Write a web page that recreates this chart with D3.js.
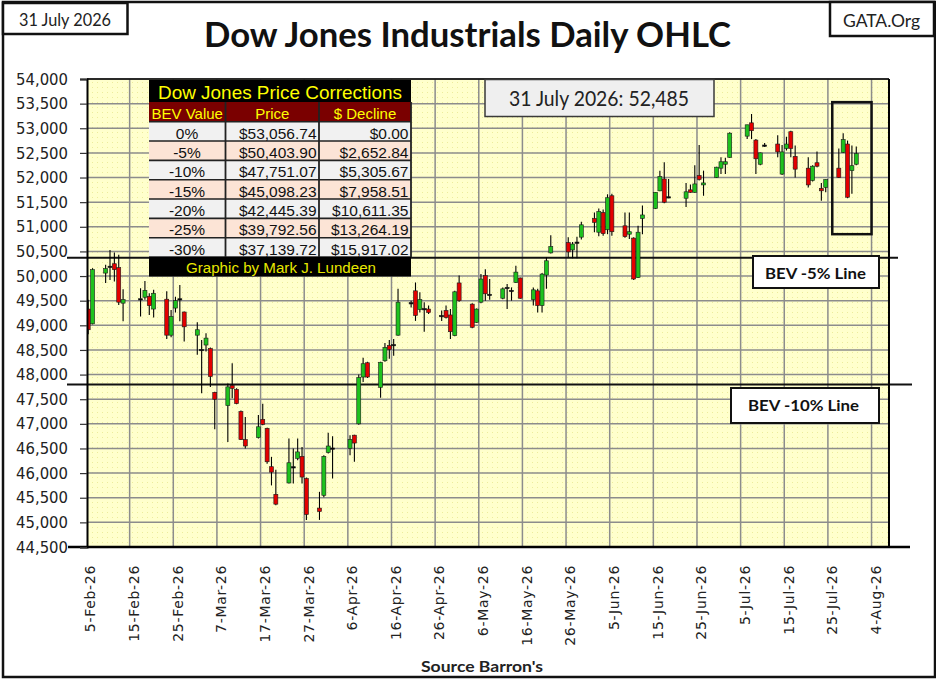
<!DOCTYPE html>
<html>
<head>
<meta charset="utf-8">
<script src="https://cdn.jsdelivr.net/npm/d3@7"></script>
<style>
  body { margin: 0; background: #fff; }
  svg { display: block; }
</style>
</head>
<body>
<div id="chart"></div>
<script>
// Dow Jones daily OHLC, one line per trading week
var tradeDates = [
  "02-05","02-06",
  "02-09","02-10","02-11","02-12","02-13",
  "02-17","02-18","02-19","02-20",
  "02-23","02-24","02-25","02-26","02-27",
  "03-02","03-03","03-04","03-05","03-06",
  "03-09","03-10","03-11","03-12","03-13",
  "03-16","03-17","03-18","03-19","03-20",
  "03-23","03-24","03-25","03-26","03-27",
  "03-30","03-31","04-01","04-02",
  "04-06","04-07","04-08","04-09","04-10",
  "04-13","04-14","04-15","04-16","04-17",
  "04-20","04-21","04-22","04-23","04-24",
  "04-27","04-28","04-29","04-30","05-01",
  "05-04","05-05","05-06","05-07","05-08",
  "05-11","05-12","05-13","05-14","05-15",
  "05-18","05-19","05-20","05-21","05-22",
  "05-26","05-27","05-28","05-29",
  "06-01","06-02","06-03","06-04","06-05",
  "06-08","06-09","06-10","06-11","06-12",
  "06-15","06-16","06-17","06-18",
  "06-22","06-23","06-24","06-25","06-26",
  "06-29","06-30","07-01","07-02",
  "07-06","07-07","07-08","07-09","07-10",
  "07-13","07-14","07-15","07-16","07-17",
  "07-20","07-21","07-22","07-23","07-24",
  "07-27","07-28","07-29","07-30","07-31"
];

var opens = [
  49330,49030,
  50060,50190,50250,50170,49450,
  49540,49570,49590,49330,
  49530,48800,49350,49520,49270,
  48800,48500,48600,48530,47640,
  47370,47780,47700,47250,46680,
  46720,47090,46910,46130,45570,
  45800,46130,46300,46340,45890,
  45290,45550,46420,46500,
  46500,46770,47000,47950,48240,
  47740,48280,48590,48600,48800,
  49450,49700,49320,49330,49330,
  49200,49300,49210,48790,49860,
  49430,49060,49470,50010,49620,
  49550,49760,49700,49870,49960,
  49520,49700,49400,50020,50470,
  50680,50530,50680,50790,
  51170,50890,51290,50940,51630,
  51020,50850,50770,49970,51170,
  51370,51730,51970,51600,
  51580,51750,51700,52040,51850,
  52000,52190,52270,52410,
  52840,53110,52760,52270,52660,
  52680,52070,52590,52930,52430,
  52190,51940,52300,51780,51800,
  52190,52510,52680,52140,52270
];

var highs = [
  49520,50160,
  50230,50530,50480,50430,49730,
  49750,49900,49650,49720,
  49690,49310,49580,49820,49280,
  49060,48700,48840,48550,47650,
  47820,48230,47720,47270,47140,
  47180,47410,46920,46330,46070,
  46700,46500,46700,46530,45910,
  45620,46360,46820,46750,
  46770,46780,48000,48340,48260,
  48260,48640,48700,48720,49740,
  49500,49870,49670,49470,49400,
  49300,49400,49330,49700,50010,
  49450,49340,50040,50140,49940,
  49770,49840,49770,50210,49970,
  49770,49740,50060,50380,50830,
  50790,50690,50800,51100,
  51290,51370,51350,51660,51670,
  51290,51290,50790,51020,51430,
  51700,52140,52310,51970,
  51890,51860,52250,52660,52140,
  52220,52410,52400,52920,
  53070,53290,52780,52510,52700,
  52860,52660,52830,52950,52650,
  52410,52250,52530,51890,51960,
  52590,52900,52750,52650,52630
];

var lows = [
  48820,49020,
  49860,49920,49890,49410,49080,
  49180,49520,49210,49160,
  48720,48760,49260,49080,48670,
  48400,47620,48470,47750,46890,
  46630,47520,47400,46670,46500,
  46700,46970,46190,45750,45350,
  45790,45790,46260,45790,45050,
  45050,45510,46400,45890,
  46360,46230,46980,47850,47930,
  47530,48260,48320,48380,48790,
  49360,49090,49260,48870,49230,
  49090,49140,48720,48780,49480,
  48940,49050,49450,49500,49520,
  49530,49330,49500,49860,49540,
  49400,49260,49260,49740,50460,
  50380,50360,50360,50740,
  50890,50810,50820,50850,50820,
  50780,50750,49920,49960,50850,
  51360,51720,51480,51580,
  51400,51690,51690,51940,51630,
  51990,52070,52070,52400,
  52780,52780,52070,52250,52620,
  52410,52050,52550,52410,52000,
  51800,51920,52210,51530,51700,
  51990,52500,51580,51670,52250
];

var closes = [
  48910,50130,
  50150,50200,50130,49470,49520,
  49530,49710,49400,49650,
  48800,49180,49500,49540,48970,
  48910,48510,48740,47960,47500,
  47750,47720,47410,46680,46550,
  46940,46990,46230,46020,45370,
  46210,46110,46430,45920,45160,
  45220,46340,46550,46510,
  46680,46610,47940,48220,47950,
  48250,48550,48510,48610,49470,
  49460,49200,49520,49340,49260,
  49190,49160,48870,49680,49500,
  48960,49330,49940,49640,49630,
  49740,49770,49710,50080,49550,
  49720,49400,50040,50310,50600,
  50490,50650,50690,51040,
  51090,51310,50860,51590,50900,
  50800,50900,49940,50890,51240,
  51700,52020,51500,51610,
  51710,51700,51870,51960,51890,
  52210,52320,52320,52900,
  53070,52950,52380,52500,52660,
  52520,52520,52680,52590,52170,
  51850,52230,52230,51730,51960,
  52000,52770,51600,52240,52485
];

var yTickValues = [44500,45000,45500,46000,46500,47000,47500,48000,48500,49000,
                   49500,50000,50500,51000,51500,52000,52500,53000,53500,54000];
var xTickDates = ["02-05","02-15","02-25","03-07","03-17","03-27","04-06","04-16","04-26",
                  "05-06","05-16","05-26","06-05","06-15","06-25","07-05","07-15","07-25","08-04"];

// BEV correction table
var bevLabels   = ["0%","-5%","-10%","-15%","-20%","-25%","-30%"];
var bevPrices   = ["$53,056.74","$50,403.90","$47,751.07","$45,098.23","$42,445.39","$39,792.56","$37,139.72"];
var bevDeclines = ["$0.00","$2,652.84","$5,305.67","$7,958.51","$10,611.35","$13,264.19","$15,917.02"];

// BEV lines drawn on the chart, and the last week box
var bevLineValues = [50370, 47800];
var bevLineNames  = ["BEV -5% Line", "BEV -10% Line"];
var boxDates  = ["07-26","08-04"];
var boxPrices = [50850, 53530];
var lastLabel = "31 July 2026: 52,485";

var W = 936, H = 680;
var plotL = 87, plotR = 889, plotT = 79, plotB = 547;
var parse = function(s){ return d3.timeParse("%Y-%m-%d")("2026-" + s); };

var x = d3.scaleTime()
    .domain([parse("02-05"), parse("08-08")])
    .range([86, 889]);
var y = d3.scaleLinear()
    .domain([44500, 54000])
    .range([plotB, plotT]);
var halfDay = (x(parse("02-06")) - x(parse("02-05"))) / 2;

var svg = d3.select("#chart").append("svg")
    .attr("width", W)
    .attr("height", H);

svg.append("rect").attr("width", W).attr("height", H).attr("fill", "#fff");

var defs = svg.append("defs");
var pat = defs.append("pattern").attr("id", "dots")
    .attr("width", 5).attr("height", 5).attr("patternUnits", "userSpaceOnUse");
pat.append("rect").attr("width", 5).attr("height", 5).attr("fill", "#ffffcc");
pat.append("rect").attr("x", 2).attr("y", 2).attr("width", 1).attr("height", 1).attr("fill", "#ecec9c");
defs.append("clipPath").attr("id", "plotclip").append("rect")
    .attr("x", plotL).attr("y", plotT).attr("width", plotR - plotL).attr("height", plotB - plotT);

// plot background
svg.append("rect")
    .attr("x", plotL).attr("y", plotT)
    .attr("width", plotR - plotL).attr("height", plotB - plotT)
    .attr("fill", "url(#dots)");

// gridlines
svg.append("g").selectAll("line")
    .data(yTickValues)
  .enter().append("line")
    .attr("x1", plotL).attr("x2", plotR)
    .attr("y1", function(d){ return y(d); })
    .attr("y2", function(d){ return y(d); })
    .attr("stroke", "#8c8c8c").attr("stroke-width", 1.5);

svg.append("g").selectAll("line")
    .data(xTickDates.slice(1))
  .enter().append("line")
    .attr("x1", function(d){ return x(parse(d)); })
    .attr("x2", function(d){ return x(parse(d)); })
    .attr("y1", plotT).attr("y2", plotB)
    .attr("stroke", "#8c8c8c").attr("stroke-width", 1.5);

// BEV lines
var lineEnds = [898, 912];
svg.append("g").selectAll("line")
    .data(bevLineValues)
  .enter().append("line")
    .attr("x1", 67)
    .attr("x2", function(d, i){ return lineEnds[i]; })
    .attr("y1", function(d){ return y(d); })
    .attr("y2", function(d){ return y(d); })
    .attr("stroke", "#111").attr("stroke-width", 2);

// candles
var candles = tradeDates.map(function(d, i){
  return {date: parse(d), o: opens[i], h: highs[i], l: lows[i], c: closes[i]};
});

var cg = svg.append("g").attr("clip-path", "url(#plotclip)");
cg.selectAll("line.wick")
    .data(candles)
  .enter().append("line")
    .attr("class", "wick")
    .attr("x1", function(d){ return x(d.date) + halfDay; })
    .attr("x2", function(d){ return x(d.date) + halfDay; })
    .attr("y1", function(d){ return y(d.h); })
    .attr("y2", function(d){ return y(d.l); })
    .attr("stroke", "#000").attr("stroke-width", 1.1);

cg.selectAll("rect.body")
    .data(candles)
  .enter().append("rect")
    .attr("class", "body")
    .attr("x", function(d){ return x(d.date) + halfDay - 2; })
    .attr("width", 4)
    .attr("y", function(d){ return y(Math.max(d.o, d.c)); })
    .attr("height", function(d){ return Math.max(1.3, Math.abs(y(d.o) - y(d.c))); })
    .attr("fill", function(d){
      if (Math.abs(d.c - d.o) < 25) return "#000";
      return d.c > d.o ? "#1ec21e" : "#e40000";
    })
    .attr("stroke", "#1a1a1a").attr("stroke-width", 0.6);

// plot frame
svg.append("line").attr("x1", plotL).attr("x2", plotR).attr("y1", plotT).attr("y2", plotT)
    .attr("stroke", "#000").attr("stroke-width", 1.5);
svg.append("line").attr("x1", plotR).attr("x2", plotR).attr("y1", plotT).attr("y2", plotB)
    .attr("stroke", "#000").attr("stroke-width", 2);
svg.append("line").attr("x1", 68).attr("x2", 910).attr("y1", plotB).attr("y2", plotB)
    .attr("stroke", "#000").attr("stroke-width", 2.5);

// y axis
var yAxis = svg.append("g")
    .attr("transform", "translate(" + plotL + ",0)")
    .call(d3.axisLeft(y).tickValues(yTickValues).tickSize(7).tickPadding(12)
      .tickFormat(d3.format(",")));
yAxis.attr("font-family", "'DejaVu Sans', Verdana, sans-serif").attr("font-size", 16);
yAxis.select(".domain").attr("stroke", "#000").attr("stroke-width", 2);
yAxis.selectAll(".tick line").attr("stroke", "#333").attr("stroke-width", 1.2);
yAxis.selectAll(".tick text")
    .attr("fill", "#222")
    .attr("textLength", 52)
    .attr("lengthAdjust", "spacingAndGlyphs");

// x labels, rotated
var fmt = d3.timeFormat("%-d-%b-%y");
svg.append("g")
    .attr("font-family", "'DejaVu Sans', Verdana, sans-serif")
    .attr("font-size", 14)
  .selectAll("text")
    .data(xTickDates)
  .enter().append("text")
    .attr("transform", function(d){ return "translate(" + (x(parse(d)) + 4.4) + ",565) rotate(-90)"; })
    .attr("text-anchor", "end")
    .attr("dy", "0.35em")
    .attr("fill", "#222")
    .style("letter-spacing", "0.7px")
    .text(function(d){ return fmt(parse(d)); });

// last week box
svg.append("rect")
    .attr("x", x(parse(boxDates[0])))
    .attr("y", y(boxPrices[1]))
    .attr("width", x(parse(boxDates[1])) - x(parse(boxDates[0])))
    .attr("height", y(boxPrices[0]) - y(boxPrices[1]))
    .attr("fill", "none").attr("stroke", "#111").attr("stroke-width", 2.5);

// BEV line labels
var bevBoxes = [{x: 753, y: 256, w: 126, h: 32, tx: 815.5, ty: 279, tl: 101},
                {x: 731, y: 388, w: 148, h: 35, tx: 803.5, ty: 411, tl: 111}];
bevBoxes.forEach(function(b, i){
  svg.append("rect").attr("x", b.x).attr("y", b.y).attr("width", b.w).attr("height", b.h)
      .attr("fill", "#fff").attr("stroke", "#111").attr("stroke-width", 2);
  svg.append("text").attr("x", b.tx).attr("y", b.ty)
      .attr("text-anchor", "middle")
      .attr("textLength", b.tl).attr("lengthAdjust", "spacingAndGlyphs")
      .style("font-family", "Lato, sans-serif").style("font-weight", "bold").style("font-size", "15.5px")
      .attr("fill", "#111")
      .text(bevLineNames[i]);
});

// correction table
var colX = [149, 225.5, 319, 411];
var rowH = 19.33, rowTop = 121.7;
var tbl = svg.append("g").style("font-family", "'Liberation Sans', Arial, sans-serif");

tbl.append("rect").attr("x", colX[0]).attr("y", 80).attr("width", colX[3] - colX[0]).attr("height", 22)
    .attr("fill", "#000");
tbl.append("text").attr("x", 280).attr("y", 98.5).attr("text-anchor", "middle")
    .attr("textLength", 244).attr("lengthAdjust", "spacingAndGlyphs")
    .attr("fill", "#ffff00").style("font-size", "18.5px")
    .text("Dow Jones Price Corrections");

tbl.append("rect").attr("x", colX[0]).attr("y", 102).attr("width", colX[3] - colX[0]).attr("height", rowTop - 102)
    .attr("fill", "#7a0000");
var heads = ["BEV Value", "Price", "$ Decline"];
tbl.selectAll("text.head")
    .data(heads)
  .enter().append("text")
    .attr("class", "head")
    .attr("x", function(d, i){ return (colX[i] + colX[i + 1]) / 2; })
    .attr("y", 119)
    .attr("text-anchor", "middle")
    .attr("fill", "#ffff00").style("font-size", "15px")
    .text(function(d){ return d; });

tbl.selectAll("rect.row")
    .data(bevLabels)
  .enter().append("rect")
    .attr("class", "row")
    .attr("x", colX[0]).attr("width", colX[3] - colX[0])
    .attr("y", function(d, i){ return rowTop + i * rowH; })
    .attr("height", rowH)
    .attr("fill", function(d, i){ return i % 2 ? "#fce4d6" : "#f1f1f1"; });

tbl.selectAll("line.rowline")
    .data(d3.range(bevLabels.length + 1))
  .enter().append("line")
    .attr("class", "rowline")
    .attr("x1", colX[0]).attr("x2", colX[3])
    .attr("y1", function(i){ return rowTop + i * rowH; })
    .attr("y2", function(i){ return rowTop + i * rowH; })
    .attr("stroke", "#222").attr("stroke-width", 1.6);

tbl.selectAll("line.colline")
    .data([colX[1], colX[2], colX[3]])
  .enter().append("line")
    .attr("class", "colline")
    .attr("x1", function(d){ return d; }).attr("x2", function(d){ return d; })
    .attr("y1", 102).attr("y2", rowTop + bevLabels.length * rowH)
    .attr("stroke", "#222").attr("stroke-width", 1.8);

tbl.selectAll("text.bev")
    .data(bevLabels)
  .enter().append("text")
    .attr("class", "bev")
    .attr("x", 187).attr("y", function(d, i){ return rowTop + i * rowH + 17; })
    .attr("text-anchor", "middle").attr("fill", "#111").style("font-size", "15.5px")
    .text(function(d){ return d; });
tbl.selectAll("text.price")
    .data(bevPrices)
  .enter().append("text")
    .attr("class", "price")
    .attr("x", 316.5).attr("y", function(d, i){ return rowTop + i * rowH + 17; })
    .attr("text-anchor", "end").attr("fill", "#111").style("font-size", "15.5px")
    .text(function(d){ return d; });
tbl.selectAll("text.decl")
    .data(bevDeclines)
  .enter().append("text")
    .attr("class", "decl")
    .attr("x", 408.5).attr("y", function(d, i){ return rowTop + i * rowH + 17; })
    .attr("text-anchor", "end").attr("fill", "#111").style("font-size", "15.5px")
    .text(function(d){ return d; });

var footTop = rowTop + bevLabels.length * rowH;
tbl.append("rect").attr("x", colX[0]).attr("y", footTop).attr("width", colX[3] - colX[0]).attr("height", 19.5)
    .attr("fill", "#000");
tbl.append("text").attr("x", 281).attr("y", footTop + 16).attr("text-anchor", "middle")
    .attr("textLength", 190).attr("lengthAdjust", "spacingAndGlyphs")
    .attr("fill", "#e8e800").style("font-size", "15.5px")
    .text("Graphic by Mark J. Lundeen");

// latest close box
svg.append("rect").attr("x", 485).attr("y", 79.5).attr("width", 229).attr("height", 37)
    .attr("fill", "#efefef").attr("stroke", "#3a3a3a").attr("stroke-width", 1.5);
svg.append("text").attr("x", 509).attr("y", 106)
    .attr("textLength", 180).attr("lengthAdjust", "spacingAndGlyphs")
    .style("font-family", "Lato, sans-serif").style("font-size", "21px")
    .attr("fill", "#222")
    .text(lastLabel);

// title and corner boxes
svg.append("text").attr("x", 204).attr("y", 47)
    .attr("textLength", 527).attr("lengthAdjust", "spacingAndGlyphs")
    .style("font-family", "Lato, sans-serif").style("font-weight", "bold").style("font-size", "34px")
    .attr("fill", "#111")
    .text("Dow Jones Industrials Daily OHLC");

svg.append("rect").attr("x", 3).attr("y", 2).attr("width", 932).attr("height", 675)
    .attr("fill", "none").attr("stroke", "#111").attr("stroke-width", 2.5);

svg.append("rect").attr("x", 3).attr("y", 3).attr("width", 124.5).attr("height", 31)
    .attr("fill", "#fff").attr("stroke", "#111").attr("stroke-width", 2.5);
svg.append("text").attr("x", 65).attr("y", 26).attr("text-anchor", "middle")
    .attr("textLength", 92).attr("lengthAdjust", "spacingAndGlyphs")
    .style("font-family", "Lato, sans-serif").style("font-size", "17px")
    .attr("fill", "#222")
    .text("31 July 2026");

svg.append("rect").attr("x", 830).attr("y", 2).attr("width", 104).attr("height", 34)
    .attr("fill", "#fff").attr("stroke", "#111").attr("stroke-width", 2.5);
svg.append("text").attr("x", 881.5).attr("y", 26.5).attr("text-anchor", "middle")
    .attr("textLength", 77).attr("lengthAdjust", "spacingAndGlyphs")
    .style("font-family", "Lato, sans-serif").style("font-size", "17px")
    .attr("fill", "#222")
    .text("GATA.Org");

// source note
svg.append("text").attr("x", 482).attr("y", 672).attr("text-anchor", "middle")
    .attr("textLength", 122).attr("lengthAdjust", "spacingAndGlyphs")
    .style("font-family", "Lato, sans-serif").style("font-weight", "bold").style("font-size", "15px")
    .attr("fill", "#222")
    .text("Source Barron's");
</script>
</body>
</html>
